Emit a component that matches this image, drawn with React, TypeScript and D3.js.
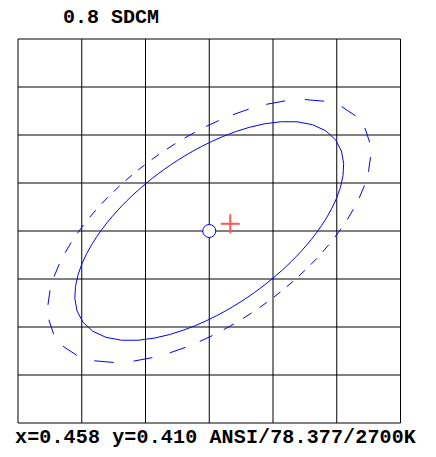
import * as d3 from "d3"

// chromaticity grid (CIE 1931 x / y)
const xGrid = [0.455, 0.456, 0.457, 0.458, 0.459, 0.46, 0.461]
const yGrid = [0.406, 0.407, 0.408, 0.409, 0.41, 0.411, 0.412, 0.413, 0.414]

// ANSI C78.377 2700K target and its 1-step MacAdam ellipse
const target = [0.458, 0.41]
const stepAxes = [0.000555, 0.00028] // semi axes a, b per step
const stepAngle = 48.8 // degrees
const ellipseSteps = [5, 6] // solid, dashed
const measured = [0.45833, 0.41015]

const title = "0.8 SDCM"
const footer = "x=0.458 y=0.410 ANSI/78.377/2700K"

const W = 436
const H = 457
const monoFont = "'Liberation Mono', 'Courier New', monospace"

// points sampled every 5 deg of polar angle, starting at phase (deg from major axis)
function ellipsePoints(steps: number, phase: number): [number, number][] {
  const a = stepAxes[0] * steps
  const b = stepAxes[1] * steps
  const t = (stepAngle * Math.PI) / 180
  const pts: [number, number][] = []
  for (let k = 0; k < 72; k++) {
    const phi = ((phase + k * 5) * Math.PI) / 180
    const r = 1 / Math.sqrt((Math.cos(phi) / a) ** 2 + (Math.sin(phi) / b) ** 2)
    const u = r * Math.cos(phi)
    const v = r * Math.sin(phi)
    pts.push([
      target[0] + u * Math.cos(t) - v * Math.sin(t),
      target[1] + u * Math.sin(t) + v * Math.cos(t),
    ])
  }
  return pts
}

export default function App() {
  const x = d3.scaleLinear().domain([xGrid[0], xGrid[xGrid.length - 1]]).range([18, 400.5])
  const y = d3.scaleLinear().domain([yGrid[0], yGrid[yGrid.length - 1]]).range([423, 39])

  const line = d3
    .line<[number, number]>()
    .x((d) => x(d[0]))
    .y((d) => y(d[1]))

  const solid = ellipsePoints(ellipseSteps[0], 0)
  const dashedPts = ellipsePoints(ellipseSteps[1], -2.5)
  // every other segment drawn -> dashes
  const dashes: [number, number][][] = []
  for (let j = 0; j < dashedPts.length; j += 2) {
    dashes.push([dashedPts[j], dashedPts[(j + 1) % dashedPts.length]])
  }

  const cx = x(target[0])
  const cy = y(target[1])
  const mx = x(measured[0])
  const my = y(measured[1])

  return (
    <svg
      width={W}
      height={H}
      style={{ position: "absolute", left: 0, top: 0, background: "#fff" }}
    >
      <text x={63} y={23} fontFamily={monoFont} fontWeight="bold" fontSize={20} fill="#000">
        {title}
      </text>

      <g stroke="#000" strokeWidth={1}>
        {xGrid.map((v) => (
          <line key={"x" + v} x1={x(v)} x2={x(v)} y1={y.range()[1]} y2={y.range()[0]} />
        ))}
        {yGrid.map((v) => (
          <line key={"y" + v} x1={x.range()[0]} x2={x.range()[1]} y1={y(v)} y2={y(v)} />
        ))}
      </g>

      <path
        d={line.curve(d3.curveLinearClosed)(solid) || ""}
        fill="none"
        stroke="#0000ff"
        strokeWidth={1}
      />
      <g fill="none" stroke="#0000ff" strokeWidth={1}>
        {dashes.map((seg, i) => (
          <path key={i} d={line.curve(d3.curveLinear)(seg) || ""} />
        ))}
      </g>

      <circle cx={cx} cy={cy} r={6.5} fill="#fff" stroke="#0000ff" strokeWidth={1} />

      <g stroke="#ff5555" strokeWidth={2}>
        <line x1={mx - 9.5} x2={mx + 9.5} y1={my} y2={my} />
        <line x1={mx} x2={mx} y1={my - 9.5} y2={my + 9.5} />
      </g>

      <text
        x={15}
        y={443}
        fontFamily={monoFont}
        fontWeight="bold"
        fontSize={20}
        letterSpacing={0.15}
        fill="#000"
      >
        {footer}
      </text>
    </svg>
  )
}
